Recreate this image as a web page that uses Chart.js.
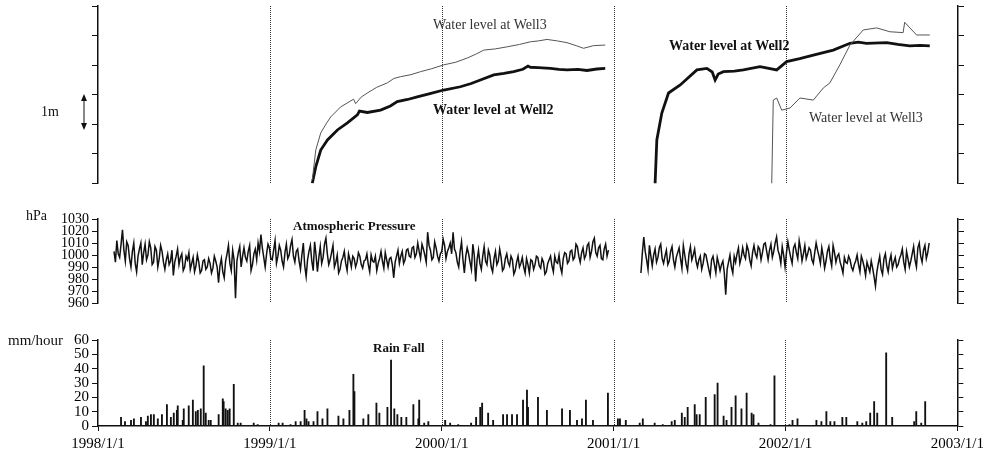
<!DOCTYPE html>
<html>
<head>
<meta charset="utf-8">
<script src="https://cdn.jsdelivr.net/npm/chart.js@4.4.1/dist/chart.umd.min.js"></script>
<style>
  body { margin: 0; background: #fff; }
  #wrap { position: relative; width: 988px; height: 457px; font-family: 'Liberation Serif', serif; color: #111; }
  canvas { position: absolute; left: 0; }
  .note { position: absolute; white-space: nowrap; line-height: 1; }
  .bold { font-weight: bold; }
</style>
</head>
<body>
<div id="wrap">
  <canvas id="level-chart" width="988" height="200" style="top:0"></canvas>
  <canvas id="pressure-chart" width="988" height="120" style="top:200px"></canvas>
  <canvas id="rain-chart" width="988" height="137" style="top:320px"></canvas>

  <div class="note" style="left:41px;top:105px;font-size:14px">1m</div>
  <svg style="position:absolute;left:78px;top:92px" width="12" height="40">
    <line x1="6" y1="6" x2="6" y2="34" stroke="#111" stroke-width="1"/>
    <polygon points="6,2 3,9 9,9" fill="#111"/>
    <polygon points="6,38 3,31 9,31" fill="#111"/>
  </svg>
  <div class="note" style="left:26px;top:209px;font-size:14px">hPa</div>
  <div class="note" style="left:8px;top:333px;font-size:15px">mm/hour</div>

  <div class="note" style="left:433px;top:18px;font-size:14px;color:#333">Water level at Well3</div>
  <div class="note bold" style="left:433px;top:103px;font-size:14px">Water level at Well2</div>
  <div class="note bold" style="left:669px;top:39px;font-size:14px">Water level at Well2</div>
  <div class="note" style="left:809px;top:111px;font-size:14px;color:#333">Water level at Well3</div>
  <div class="note bold" style="left:293px;top:219px;font-size:13px">Atmospheric Pressure</div>
  <div class="note bold" style="left:373px;top:341px;font-size:13px">Rain Fall</div>
</div>

<script>
const dividerYears = [1999, 2000, 2001, 2002];

// water level, relative metres (one tick = 1 m); null splits the two logging periods
const well2Years = [
  1999.246, 1999.266, 1999.295, 1999.334, 1999.392, 1999.450, 1999.508, 1999.520, 1999.566, 1999.643,
  1999.700, 1999.740, 1999.800, 1999.856, 1999.930, 2000.010, 2000.107, 2000.170, 2000.223, 2000.301,
  2000.360, 2000.417, 2000.470, 2000.500, 2000.514, 2000.560, 2000.630, 2000.680, 2000.727, 2000.790,
  2000.843, 2000.900, 2000.949,
  2001.100,
  2001.239, 2001.249, 2001.278, 2001.317, 2001.385, 2001.482, 2001.540, 2001.571, 2001.588, 2001.606,
  2001.636, 2001.700, 2001.752, 2001.849, 2001.946, 2002.004, 2002.080, 2002.159, 2002.275, 2002.372,
  2002.420, 2002.468, 2002.585, 2002.650, 2002.720, 2002.780, 2002.836
];
const well2Levels = [
  0.01, 0.56, 1.13, 1.47, 1.81, 2.05, 2.32, 2.45, 2.40, 2.48,
  2.62, 2.77, 2.84, 2.93, 3.04, 3.16, 3.27, 3.38, 3.50, 3.67,
  3.72, 3.78, 3.86, 3.97, 3.93, 3.92, 3.89, 3.86, 3.84, 3.86,
  3.82, 3.87, 3.89,
  null,
  0.00, 1.47, 2.38, 3.06, 3.33, 3.84, 3.89, 3.77, 3.50, 3.70,
  3.78, 3.80, 3.84, 3.95, 3.84, 4.12, 4.22, 4.34, 4.51, 4.74,
  4.78, 4.74, 4.76, 4.70, 4.65, 4.67, 4.65
];
const well3Years = [
  1999.246, 1999.266, 1999.295, 1999.330, 1999.353, 1999.411, 1999.486, 1999.498, 1999.530, 1999.566,
  1999.620, 1999.682, 1999.720, 1999.759, 1999.820, 1999.875, 1999.940, 2000.010, 2000.080, 2000.146,
  2000.200, 2000.243, 2000.310, 2000.379, 2000.450, 2000.514, 2000.560, 2000.611, 2000.670, 2000.727,
  2000.780, 2000.823, 2000.880, 2000.949,
  2001.100,
  2001.917, 2001.926, 2001.946, 2001.975, 2002.023, 2002.081, 2002.159, 2002.217, 2002.255, 2002.313,
  2002.372, 2002.449, 2002.527, 2002.604, 2002.681, 2002.690, 2002.759, 2002.836
];
const well3Levels = [
  0.12, 1.13, 1.71, 2.05, 2.25, 2.59, 2.85, 2.70, 2.92, 3.06,
  3.25, 3.40, 3.55, 3.61, 3.68, 3.78, 3.88, 4.01, 4.10, 4.24,
  4.38, 4.51, 4.55, 4.62, 4.70, 4.79, 4.82, 4.87, 4.82, 4.76,
  4.66, 4.57, 4.66, 4.68,
  null,
  0.00, 2.82, 2.89, 2.48, 2.55, 2.89, 2.82, 3.23, 3.40, 4.01,
  4.68, 5.19, 5.26, 5.13, 5.10, 5.45, 5.02, 5.02
];

// atmospheric pressure (hPa), one reading every 3 days
const pressureStepDays = 3;
const pressure1StartDay = 34;    // days after 1998/1/1
const pressure1 = [
  1003, 994, 1012, 1001, 998, 1009, 1021, 1004, 995, 1011, 1008, 997, 990, 1003, 1010, 993, 986, 999, 1005, 1010,
  992, 1002, 1009, 996, 1000, 1011, 1006, 992, 994, 1007, 1004, 990, 997, 1008, 1003, 994, 988, 996, 1001, 992,
  995, 1004, 983, 994, 999, 1005, 992, 998, 1001, 987, 990, 999, 996, 1002, 988, 993, 998, 986, 991, 1000,
  994, 985, 987, 995, 996, 988, 990, 997, 993, 985, 989, 999, 995, 990, 977, 991, 997, 986, 981, 995,
  1001, 1008, 993, 987, 1004, 996, 964, 995, 1002, 1007, 990, 999, 1006, 998, 995, 1003, 1008, 987, 992, 1001,
  1005, 996, 1010, 1003, 1017, 1006, 998, 990, 1001, 1009, 1006, 997, 996, 1004, 1012, 993, 999, 1008, 1004, 995,
  990, 1002, 1009, 997, 1000, 1008, 1013, 999, 994, 1003, 1005, 995, 988, 1000, 1010, 991, 982, 996, 1003, 1008,
  995, 987, 1011, 1000, 986, 998, 1007, 993, 998, 1009, 1014, 1001, 992, 996, 1002, 1008, 990, 994, 1000, 985,
  988, 995, 998, 1003, 993, 987, 1001, 996, 990, 999, 997, 990, 994, 1002, 999, 992, 989, 995, 996, 1001,
  992, 986, 1000, 995, 994, 999, 987, 993, 997, 1003, 995, 989, 1002, 996, 990, 997, 998, 992, 981, 994,
  999, 1004, 993, 999, 1003, 993, 996, 1004, 1005, 999, 998, 1006, 1007, 998, 1001, 1010, 1003, 997, 1009, 1005,
  1000, 994, 1019, 1008, 1004, 996, 998, 1011, 1006, 999, 995, 1001, 1003, 1013, 1008, 997, 1003, 1006, 1010, 1001,
  1019, 1005, 1002, 994, 990, 1003, 1011, 996, 985, 999, 1006, 1001, 994, 988, 1009, 1000, 978, 996, 1004, 993,
  988, 999, 1007, 995, 992, 1004, 1000, 990, 986, 997, 1003, 992, 995, 1005, 998, 987, 989, 997, 1001, 994,
  991, 999, 996, 984, 987, 994, 999, 990, 993, 998, 990, 985, 997, 992, 985, 996, 995, 988, 992, 999,
  998, 991, 989, 997, 994, 984, 986, 993, 996, 999, 991, 986, 999, 994, 993, 1000, 990, 985, 997, 1002,
  1001, 993, 995, 1003, 1004, 996, 998, 1009, 1007, 999, 994, 1002, 1006, 997, 1000, 1008, 1010, 998, 1003, 1011,
  1014, 1002, 999, 1006, 1008, 997, 996, 1005, 1009, 999, 1004
];
const pressure2StartDay = 1153;
const pressure2 = [
  985, 1002, 1015, 1003, 996, 988, 1008, 999, 991, 1000, 1005, 994, 998, 1006, 1009, 997, 993, 999, 1004, 992,
  995, 1003, 1007, 996, 990, 998, 1002, 1006, 997, 989, 1008, 1000, 992, 987, 1001, 1007, 996, 1000, 1005, 995,
  990, 996, 999, 988, 993, 1001, 1000, 994, 988, 983, 996, 999, 992, 985, 998, 993, 987, 992, 995, 985,
  967, 988, 994, 1000, 990, 985, 999, 994, 1001, 1006, 993, 998, 1006, 1000, 997, 1008, 1004, 996, 991, 1002,
  1008, 1001, 998, 1007, 1005, 996, 1002, 1009, 1010, 1003, 996, 1004, 1009, 998, 1003, 1010, 1015, 1004, 1000, 993,
  1007, 1000, 990, 1002, 1011, 1004, 998, 993, 1006, 1009, 1002, 997, 1012, 1005, 995, 1001, 1008, 997, 1001, 1006,
  1004, 996, 993, 1002, 1010, 1004, 999, 993, 1006, 999, 989, 995, 1003, 1007, 997, 991, 1008, 1002, 994, 999,
  1001, 994, 990, 985, 998, 994, 993, 999, 996, 990, 987, 992, 995, 1000, 992, 986, 999, 995, 990, 983,
  994, 990, 986, 995, 989, 982, 974, 986, 993, 999, 988, 984, 997, 1001, 991, 986, 995, 1000, 989, 994,
  998, 990, 992, 997, 1000, 1005, 994, 988, 1003, 997, 990, 995, 1001, 1007, 996, 990, 1006, 1010, 999, 994,
  1004, 1008, 997, 1002, 1010
];

// rainfall peaks (mm/hour)
const rainYears = [
  1998.134, 1998.157, 1998.192, 1998.209, 1998.250, 1998.279, 1998.290, 1998.308, 1998.325, 1998.348,
  1998.372, 1998.401, 1998.424, 1998.441, 1998.459, 1998.464, 1998.493, 1998.499, 1998.528, 1998.552,
  1998.569, 1998.581, 1998.598, 1998.615, 1998.627, 1998.644, 1998.656, 1998.702, 1998.726, 1998.731,
  1998.743, 1998.755, 1998.766, 1998.790, 1998.813, 1998.830, 1998.906, 1998.929,
  1999.051, 1999.074, 1999.120, 1999.150, 1999.179, 1999.202, 1999.213, 1999.225, 1999.254, 1999.277,
  1999.306, 1999.335, 1999.399, 1999.428, 1999.463, 1999.486, 1999.492, 1999.544, 1999.573, 1999.620,
  1999.637, 1999.684, 1999.705, 1999.724, 1999.742, 1999.765, 1999.794, 1999.835, 1999.864, 1999.869,
  1999.898, 1999.922,
  2000.020, 2000.049, 2000.096, 2000.171, 2000.200, 2000.224, 2000.235, 2000.270, 2000.299, 2000.357,
  2000.380, 2000.409, 2000.438, 2000.473, 2000.496, 2000.502, 2000.560, 2000.612, 2000.700, 2000.746,
  2000.787, 2000.816, 2000.839, 2000.880, 2000.967,
  2001.025, 2001.037, 2001.071, 2001.152, 2001.170, 2001.239, 2001.286, 2001.338, 2001.356, 2001.397,
  2001.414, 2001.431, 2001.472, 2001.483, 2001.501, 2001.536, 2001.588, 2001.605, 2001.640, 2001.657,
  2001.686, 2001.710, 2001.744, 2001.774, 2001.803, 2001.814, 2001.843, 2001.913, 2001.936,
  2002.023, 2002.041, 2002.070, 2002.180, 2002.209, 2002.238, 2002.261, 2002.285, 2002.331, 2002.354,
  2002.418, 2002.447, 2002.470, 2002.493, 2002.516, 2002.534, 2002.586, 2002.621, 2002.749, 2002.761,
  2002.790, 2002.813
];
const rainMm = [
  6, 3, 4, 5, 6, 3, 7, 8, 8, 5,
  8, 15, 6, 9, 11, 14, 4, 12, 14, 18,
  10, 11, 12, 42, 9, 4, 4, 8, 19, 17,
  12, 11, 12, 29, 2, 2, 2, 1,
  2, 2, 1, 3, 3, 11, 5, 3, 3, 10,
  5, 12, 7, 5, 11, 36, 24, 5, 8, 16,
  9, 13, 46, 12, 8, 6, 6, 15, 5, 18,
  2, 3,
  4, 2, 1, 2, 6, 13, 16, 9, 4, 8,
  8, 8, 8, 18, 25, 13, 20, 11, 12, 11,
  4, 5, 18, 4, 23,
  5, 5, 4, 2, 5, 2, 1, 3, 4, 9,
  6, 13, 15, 8, 8, 20, 22, 30, 7, 4,
  13, 21, 12, 23, 9, 8, 2, 1, 35,
  1, 4, 5, 4, 3, 10, 3, 3, 6, 6,
  3, 2, 3, 9, 17, 9, 51, 6, 3, 10,
  2, 17
];

Chart.defaults.font.family = "'Liberation Serif', serif";
Chart.defaults.color = '#000';
Chart.defaults.animation = false;

const yearLines = {
  id: 'yearLines',
  beforeDatasetsDraw(chart) {
    const { ctx, chartArea, scales } = chart;
    ctx.save();
    ctx.strokeStyle = '#333';
    ctx.lineWidth = 1;
    ctx.setLineDash([1, 1]);
    dividerYears.forEach(year => {
      const x = Math.round(scales.x.getPixelForValue(year)) + 0.5;
      ctx.beginPath();
      ctx.moveTo(x, chartArea.top);
      ctx.lineTo(x, chartArea.bottom);
      ctx.stroke();
    });
    ctx.restore();
  }
};

function toPoints(xs, ys) {
  return xs.map((x, i) => ({ x, y: ys[i] }));
}

function seriesPoints(startDay, values) {
  return values.map((v, i) => ({ x: 1998 + (startDay + i * pressureStepDays) / 365.25, y: v }));
}

function sideAxes(min, max, step, labelSize) {
  return {
    y: {
      type: 'linear', position: 'left', min, max,
      ticks: {
        stepSize: step, autoSkip: false, display: labelSize > 0, padding: 3,
        font: { size: labelSize || 12 }, callback: v => String(v)
      },
      grid: { drawOnChartArea: false, drawTicks: true, tickLength: 6, color: '#111' },
      border: { display: true, color: '#111', width: 1.5 },
      afterFit(scale) { scale.width = 98; }
    },
    y2: {
      type: 'linear', position: 'right', min, max,
      ticks: { stepSize: step, display: false, autoSkip: false },
      grid: { drawOnChartArea: false, drawTicks: true, tickLength: 6, color: '#111' },
      border: { display: true, color: '#111', width: 1.5 },
      afterFit(scale) { scale.width = 30; }
    }
  };
}

const hiddenX = { type: 'linear', min: 1998, max: 2003, display: false };

const commonOptions = {
  responsive: false,
  devicePixelRatio: 1,
  plugins: { legend: { display: false }, tooltip: { enabled: false } },
  elements: { point: { radius: 0 }, line: { tension: 0 } }
};

new Chart(document.getElementById('level-chart'), {
  type: 'line',
  data: {
    datasets: [
      { data: toPoints(well3Years, well3Levels), borderColor: '#555', borderWidth: 1 },
      { data: toPoints(well2Years, well2Levels), borderColor: '#111', borderWidth: 2.8 }
    ]
  },
  options: {
    ...commonOptions,
    layout: { padding: { top: 6, bottom: 16.5, left: 0, right: 0 } },
    scales: { x: hiddenX, ...sideAxes(0, 6, 1, 0) }
  },
  plugins: [yearLines]
});

new Chart(document.getElementById('pressure-chart'), {
  type: 'line',
  data: {
    datasets: [
      { data: seriesPoints(pressure1StartDay, pressure1), borderColor: '#111', borderWidth: 1.5 },
      { data: seriesPoints(pressure2StartDay, pressure2), borderColor: '#111', borderWidth: 1.5 }
    ]
  },
  options: {
    ...commonOptions,
    layout: { padding: { top: 19, bottom: 17, left: 0, right: 0 } },
    scales: { x: hiddenX, ...sideAxes(960, 1030, 10, 14) }
  },
  plugins: [yearLines]
});

new Chart(document.getElementById('rain-chart'), {
  type: 'bar',
  data: {
    datasets: [
      { data: toPoints(rainYears, rainMm), backgroundColor: '#111', barThickness: 1.2 }
    ]
  },
  options: {
    ...commonOptions,
    layout: { padding: { top: 20, bottom: 0, left: 0, right: 0 } },
    scales: {
      x: {
        type: 'linear', min: 1998, max: 2003, offset: false,
        ticks: { stepSize: 1, autoSkip: false, maxRotation: 0, padding: 4, font: { size: 15 }, callback: v => v + '/1/1' },
        grid: { offset: false, drawOnChartArea: false, tickLength: 5, color: '#111' },
        border: { color: '#111', width: 1.5 },
        afterFit(scale) { scale.height = 31; }
      },
      ...sideAxes(0, 60, 10, 15)
    }
  },
  plugins: [yearLines]
});
</script>
</body>
</html>
